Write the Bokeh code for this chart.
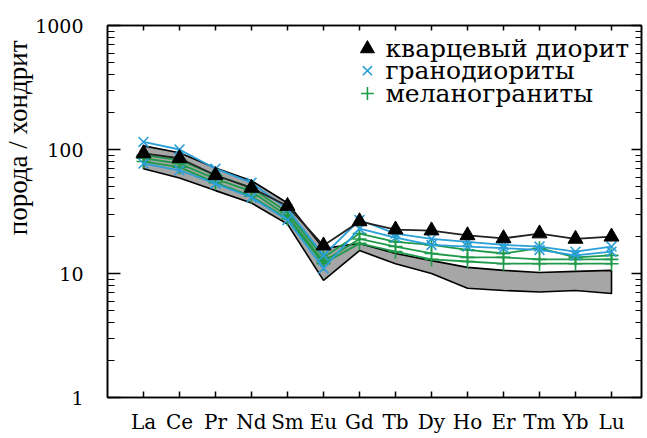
from bokeh.plotting import figure
from bokeh.models import (FixedTicker, LogTicker, LinearAxis, LogAxis, Label,
                          Title, NumeralTickFormatter)
from bokeh.embed import file_html
from bokeh.resources import INLINE

# Chondrite-normalised REE patterns
elements = ["La", "Ce", "Pr", "Nd", "Sm", "Eu", "Gd", "Tb", "Dy", "Ho", "Er", "Tm", "Yb", "Lu"]

quartz_diorite = [93, 85, 62, 49, 35, 16.8, 26.3, 22.6, 22.2, 20.3, 19.2, 21.0, 19.0, 19.8]

granodiorite_1 = [115, 100, 70, 54, 33, 14, 27, 21, 19, 18, 17, 16.5, 15, 16.5]
granodiorite_2 = [77, 68, 53, 41, 27, 11, 23, 19.5, 17, 16.5, 16, 15.5, 14, 15]

melanogranite_1 = [90, 82, 62, 49, 31, 13.5, 21, 18, 17, 15.5, 14.5, 16, 13.5, 14]
melanogranite_2 = [85, 77, 58, 46, 29, 12.5, 19, 16.5, 14.5, 13.5, 13.5, 13, 13, 13]
melanogranite_3 = [80, 72, 54, 42, 27.5, 12, 17.5, 15, 13, 12.5, 12, 12, 12, 12]

# Envelope of the comparison field (grey)
field_upper = [107, 94, 71, 56, 37, 15.9, 17.5, 14.5, 12.7, 11.2, 10.6, 10.2, 10.4, 10.6]
field_lower = [70, 59, 46.6, 37, 25, 8.8, 15.3, 12, 10, 7.6, 7.3, 7.1, 7.3, 6.9]

legend_labels = ["кварцевый диорит", "гранодиориты", "меланограниты"]

BLUE = "#2a9fd8"
GREEN = "#1e9a4a"
TITLE_FONT = "'Liberation Serif', 'Times New Roman', serif"
SERIF = "DejaVu Serif"

x = list(range(len(elements)))

p = figure(frame_width=534, frame_height=372,
           x_range=(-1, 13.833), y_range=(1, 1000), y_axis_type="log",
           output_backend="svg", toolbar_location=None,
           min_border_left=107, min_border_right=6,
           min_border_top=25, min_border_bottom=41)
p.background_fill_color = "white"
p.border_fill_color = "white"
p.outline_line_color = "black"
p.outline_line_width = 1.5
p.xgrid.visible = False
p.ygrid.visible = False

# grey field
p.patch(x + x[::-1], field_upper + field_lower[::-1],
        fill_color="#a6a6a6", line_color="black", line_width=1.6)

# melanogranites
for ser in (melanogranite_1, melanogranite_2, melanogranite_3):
    p.line(x, ser, line_color=GREEN, line_width=1.8)
    p.scatter(x, ser, marker="cross", size=14, line_color=GREEN, line_width=1.6)

# granodiorites
for ser in (granodiorite_1, granodiorite_2):
    p.line(x, ser, line_color=BLUE, line_width=1.8)
    p.scatter(x, ser, marker="x", size=14, line_color=BLUE, line_width=1.6)

# quartz diorite
p.line(x, quartz_diorite, line_color="#222222", line_width=1.8)
p.scatter(x, quartz_diorite, marker="triangle", size=15,
          fill_color="black", line_color="black")

# axes styling
xt = FixedTicker(ticks=x)
ax = p.xaxis[0]
ax.ticker = xt
ax.major_label_overrides = {i: e for i, e in enumerate(elements)}
ax.minor_tick_line_color = None
ay = p.yaxis[0]
ay.ticker = LogTicker(num_minor_ticks=10)
ay.formatter = NumeralTickFormatter(format="0")

for a in (ax, ay):
    a.axis_line_width = 1.6
    a.axis_line_color = "black"
    a.major_tick_line_color = "black"
    a.major_tick_line_width = 1.5
    a.minor_tick_line_width = 1.2
    a.major_tick_out = 0
    a.minor_tick_out = 0
    a.major_label_text_color = "black"
    a.major_label_text_font_style = "normal"
    a.major_label_text_font = SERIF
ax.major_label_text_font_size = "20px"
ay.major_label_text_font_size = "19px"

ax.major_tick_in = 6
ax.major_label_standoff = 12
ay.major_tick_in = 13
ay.minor_tick_in = 7
ay.major_label_standoff = 24

# frame axes on the top and right, ticks only
top = LinearAxis(ticker=xt, major_label_text_font_size="1px",
                 major_label_text_color=None,
                 major_tick_in=5, major_tick_out=0, minor_tick_line_color=None,
                 axis_line_width=1.6, major_tick_line_width=1.5,
                 major_label_standoff=0)
p.add_layout(top, "above")
right = LogAxis(ticker=LogTicker(num_minor_ticks=10), major_label_text_font_size="1px",
                major_label_text_color=None,
                major_tick_in=10, major_tick_out=0, minor_tick_in=6, minor_tick_out=0,
                axis_line_width=1.6, major_tick_line_width=1.5, minor_tick_line_width=1.2,
                major_label_standoff=0)
p.add_layout(right, "right")

# y-axis title, placed toward the upper end of the axis
p.add_layout(Title(text="порода / хондрит", align="right", offset=15,
                   text_font=TITLE_FONT, text_font_size="27px", text_font_style="normal",
                   text_color="black", standoff=0), "left")

# legend (drawn in data space, top right)
leg_x = 6.22
leg_y = [650, 432, 283]
p.scatter([leg_x], [leg_y[0]], marker="triangle", size=14, fill_color="black", line_color="black")
p.scatter([leg_x], [leg_y[1]], marker="x", size=13, line_color=BLUE, line_width=1.6)
p.scatter([leg_x], [leg_y[2]], marker="cross", size=13, line_color=GREEN, line_width=1.6)
for lab, ly in zip(legend_labels, leg_y):
    p.add_layout(Label(x=leg_x + 0.5, y=ly, text=lab, text_align="left",
                       text_baseline="middle", text_font=SERIF, text_font_style="normal",
                       text_font_size="25px", text_color="black"))

open("out.html", "w").write(file_html(p, INLINE))
